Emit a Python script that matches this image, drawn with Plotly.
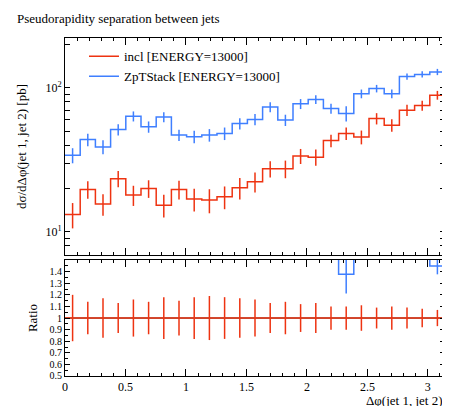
import numpy as np
import plotly.graph_objects as go

# 25 bins between 0 and pi
edges = np.linspace(0, np.pi, 26)
centers = 0.5 * (edges[:-1] + edges[1:])

incl = [13.2, 19.7, 15.6, 23.4, 18.0, 20.0, 15.3, 19.7, 16.9, 16.6, 17.5, 20.2, 22.3,
        27.4, 27.4, 33.6, 33.0, 43.0, 48.2, 45.5, 61.2, 55.0, 70.0, 75.4, 89.0]
incl_relerr = [0.20, 0.14, 0.17, 0.13, 0.16, 0.14, 0.18, 0.15, 0.18, 0.19, 0.18, 0.17, 0.16,
               0.13, 0.14, 0.12, 0.13, 0.10, 0.10, 0.11, 0.09, 0.10, 0.09, 0.08, 0.07]
zpt = [34.0, 43.7, 38.9, 51.3, 63.5, 53.6, 62.7, 47.0, 45.8, 47.0, 48.2, 56.5, 60.3,
       73.5, 59.7, 77.4, 83.0, 71.8, 66.4, 91.0, 98.9, 91.0, 120.0, 124.0, 129.0]
zpt_relerr = [0.12, 0.10, 0.11, 0.09, 0.08, 0.09, 0.08, 0.09, 0.10, 0.10, 0.10, 0.09, 0.09,
              0.08, 0.09, 0.08, 0.07, 0.08, 0.12, 0.07, 0.06, 0.07, 0.05, 0.05, 0.05]

RED = "#ee3311"
BLUE = "#3f7fff"
FONT = "Liberation Serif"

def step(vals):
    return list(edges), list(vals) + [vals[-1]]

fig = go.Figure()
fig.add_trace(go.Scatter(x=[0, np.pi], y=[1, 1], mode="lines", line=dict(color="black", width=1),
                         showlegend=False, xaxis="x2", yaxis="y2"))
for vals, rel, col, name in [(incl, incl_relerr, RED, "incl [ENERGY=13000]"),
                             (zpt, zpt_relerr, BLUE, "ZpTStack [ENERGY=13000]")]:
    x, y = step(vals)
    err = [v * r for v, r in zip(vals, rel)]
    fig.add_trace(go.Scatter(x=x, y=y, mode="lines", line=dict(color=col, width=1.5, shape="hv"),
                             name=name, xaxis="x", yaxis="y", showlegend=True))
    fig.add_trace(go.Scatter(x=centers, y=vals, mode="markers", marker=dict(size=0.1, color=col),
                             error_y=dict(type="data", array=err, color=col, width=0, thickness=1.5),
                             showlegend=False, xaxis="x", yaxis="y"))
    ratio = [v / r0 for v, r0 in zip(vals, incl)]
    xr, yr = step(ratio)
    fig.add_trace(go.Scatter(x=xr, y=yr, mode="lines", line=dict(color=col, width=1.5, shape="hv"),
                             showlegend=False, xaxis="x2", yaxis="y2"))
    fig.add_trace(go.Scatter(x=centers, y=ratio, mode="markers", marker=dict(size=0.1, color=col),
                             error_y=dict(type="data", array=[q * r for q, r in zip(ratio, rel)],
                                          color=col, width=0, thickness=1.5),
                             showlegend=False, xaxis="x2", yaxis="y2"))

axis_common = dict(ticks="inside", mirror="allticks", showline=True, linecolor="black",
                   linewidth=1, showgrid=False, zeroline=False, tickcolor="black",
                   tickfont=dict(family=FONT, size=12, color="black"))

logvals = [7, 8, 9, 10, 20, 30, 40, 50, 60, 70, 80, 90, 100, 200]
logtext = ["10<sup>1</sup>" if v == 10 else "10<sup>2</sup>" if v == 100 else "" for v in logvals]

fig.update_layout(
    width=450, height=406,
    margin=dict(l=57, r=13, t=30, b=38),
    paper_bgcolor="white", plot_bgcolor="white",
    font=dict(family=FONT, size=13, color="black"),
    title=dict(text="Pseudorapidity separation between jets", x=0.02, xanchor="left",
               y=0.985, yanchor="top", font=dict(family=FONT, size=13)),
    xaxis=dict(axis_common, domain=[0, 1], range=[0, np.pi], anchor="y", showticklabels=False,
               dtick=0.5, minor=dict(dtick=0.1, ticks="inside", ticklen=3, tickcolor="black"), ticklen=7),
    yaxis=dict(axis_common, domain=[0.358, 1], type="log", range=[np.log10(6.9), np.log10(222)],
               tickvals=logvals, ticktext=logtext, ticklen=5,
               title=dict(text="dσ/dΔφ(jet 1, jet 2) [pb]", font=dict(family=FONT, size=13))),
    xaxis2=dict(axis_common, domain=[0, 1], range=[0, np.pi], anchor="y2", dtick=0.5, ticklen=7,
                minor=dict(dtick=0.1, ticks="inside", ticklen=3, tickcolor="black")),
    yaxis2=dict(axis_common, domain=[0, 0.343], range=[0.5, 1.5], anchor="x2",
                tickvals=[0.5, 0.6, 0.7, 0.8, 0.9, 1, 1.1, 1.2, 1.3, 1.4],
                ticktext=["0.5", "0.6", "0.7", "0.8", "0.9", "1", "1.1", "1.2", "1.3", "1.4"],
                tickfont=dict(family=FONT, size=10, color="black"),
                ticklen=5, minor=dict(dtick=0.05, ticks="inside", ticklen=3, tickcolor="black"),
                title=dict(text="Ratio", font=dict(family=FONT, size=13), standoff=8)),
    legend=dict(x=0.05, y=0.99, xanchor="left", yanchor="top", bgcolor="rgba(0,0,0,0)",
                font=dict(family=FONT, size=13)),
    annotations=[dict(text="Δφ(jet 1, jet 2)", x=1, y=-0.045, xref="paper", yref="paper",
                      xanchor="right", yanchor="top", showarrow=False,
                      font=dict(family=FONT, size=13))],
)

fig.write_html("out.html")
